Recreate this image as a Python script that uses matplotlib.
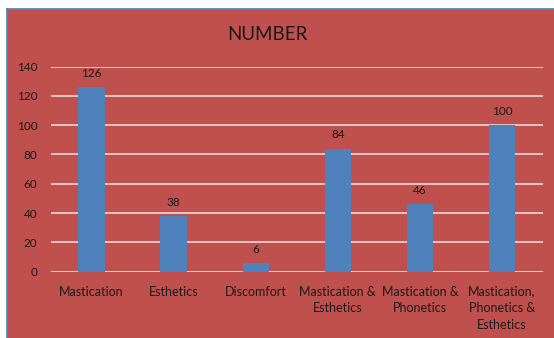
import matplotlib
matplotlib.use("Agg")
from matplotlib import pyplot as plt
from matplotlib.patches import Rectangle
from matplotlib.lines import Line2D
import numpy as np

categories = ["Mastication", "Esthetics", "Discomfort",
              "Mastication &\nEsthetics", "Mastication &\nPhonetics",
              "Mastication,\nPhonetics &\nEsthetics"]
counts = [126, 38, 6, 84, 46, 100]

panel_red = "#C0504D"
bar_blue = "#4F81BD"
grid_col = "#E6CFCE"
text_col = "#1A1A1A"

plt.rcParams["font.family"] = ["Lato", "DejaVu Sans"]

fig = plt.figure(figsize=(5.54, 3.38), dpi=100)
fig.patch.set_facecolor("white")

# chart area background with thin blue border on the left and top
x0 = 7 / 554
y1 = (338 - 9) / 338
fig.patches.append(Rectangle((x0, 0), 1 - x0, y1, transform=fig.transFigure,
                             facecolor=panel_red, edgecolor="none", zorder=-10))
fig.lines.append(Line2D([x0, x0], [0, y1], transform=fig.transFigure,
                        color="#4F81BD", lw=1.2, zorder=-5))
fig.lines.append(Line2D([x0, 1], [y1, y1], transform=fig.transFigure,
                        color="#4F81BD", lw=1.2, zorder=-5))

fig.text(267 / 554, 1 - 35 / 338, "NUMBER", ha="center", va="center",
         fontsize=13.5, color=text_col)

ax = fig.add_axes([50.5 / 554, 1 - 271.7 / 338, (543 - 50.5) / 554, (271.7 - 66.5) / 338])
ax.set_facecolor("none")

xpos = np.arange(len(categories))
ax.bar(xpos, counts, width=0.32, color=bar_blue, zorder=3)
for x, v in zip(xpos, counts):
    ax.annotate(str(v), (x, v), xytext=(0, 6), textcoords="offset points",
                ha="center", va="bottom", fontsize=8.5, color=text_col)

ax.set_xlim(-0.5, len(categories) - 0.5)
ax.set_ylim(0, 140)
ax.set_yticks(range(0, 141, 20))
ax.yaxis.grid(True, color=grid_col, lw=1.3, zorder=1)
ax.set_axisbelow(True)
for s in ax.spines.values():
    s.set_visible(False)
ax.axhline(0, color=grid_col, lw=1.3, zorder=2)

ax.set_xticks(xpos)
ax.set_xticklabels(categories, fontsize=9, color=text_col, linespacing=1.45)
ax.tick_params(axis="both", length=0, labelcolor=text_col)
ax.tick_params(axis="y", pad=9.5, labelsize=8.5)
ax.tick_params(axis="x", pad=10)

fig.savefig("out.png", dpi=100)
